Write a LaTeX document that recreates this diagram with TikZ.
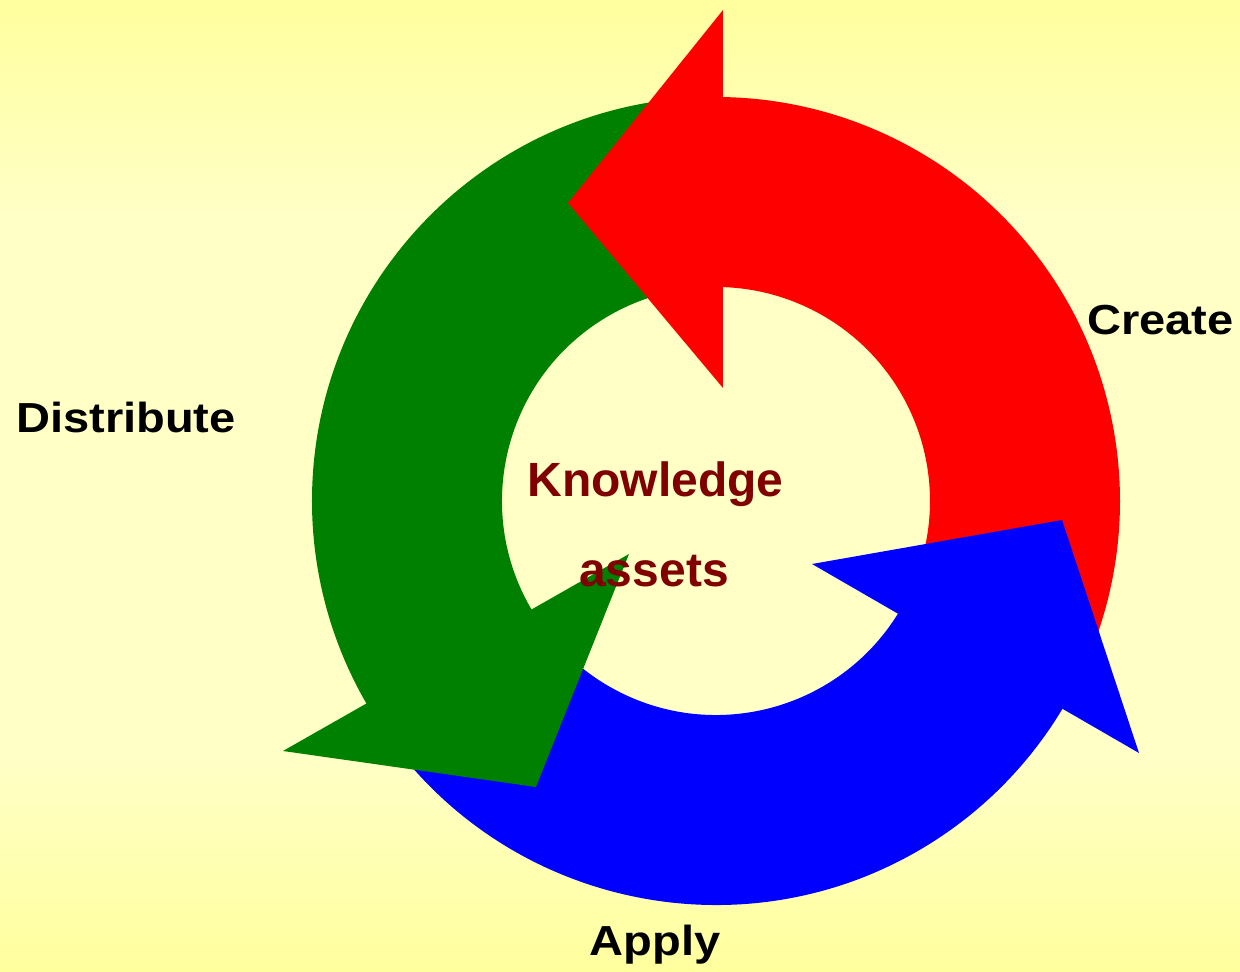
\documentclass[tikz,border=0pt]{standalone}
\usepackage{fontspec}
\setmainfont{Liberation Sans}
\definecolor{bgedge}{HTML}{FFFF9E}
\definecolor{bgmid}{HTML}{FFFFC6}
\definecolor{cred}{HTML}{FF0000}
\definecolor{cgreen}{HTML}{008000}
\definecolor{cblue}{HTML}{0000FF}
\definecolor{kdark}{HTML}{800000}
\pgfdeclareverticalshading{bgshade}{100bp}{color(0bp)=(bgedge); color(25bp)=(bgedge); color(36bp)=(bgmid); color(64bp)=(bgmid); color(75bp)=(bgedge); color(100bp)=(bgedge)}
\tikzset{
  lbl/.style={anchor=base, inner sep=0pt, font=\bfseries\fontsize{42}{50}\selectfont, text=black, xscale=1.12},
  ctr/.style={anchor=base, inner sep=0pt, font=\bfseries\fontsize{48}{56}\selectfont, text=kdark}
}
\begin{document}
\begin{tikzpicture}[x=1pt,y=1pt]
\useasboundingbox (-716,-471) rectangle (524,501);
\shade[shading=bgshade] (-716,-471) rectangle (524,501);
% bodies
\fill[cred] (-20:404) arc[start angle=-20,end angle=90,radius=404] -- (90:214) arc[start angle=90,end angle=-20,radius=214] -- cycle;
\fill[cgreen] (90:404) arc[start angle=90,end angle=211,radius=404] -- (211:214) arc[start angle=211,end angle=90,radius=214] -- cycle;
\fill[cblue] (215:404) arc[start angle=215,end angle=331,radius=404] -- (331:214) arc[start angle=331,end angle=215,radius=214] -- cycle;
% heads
\fill[cred] (7,491) -- (-148,298) -- (7,113) -- cycle;
\fill[cgreen] (-433,-250) -- (-180,-286) -- (-87,-53) -- cycle;
\fill[cblue] (96,-63) -- (346,-19) -- (423,-252) -- cycle;
% labels
\node[lbl] (create) at (444.5,166) {Create};
\node[lbl] (distribute) at (-590,68) {Distribute};
\node[lbl] (apply) at (-61,-454) {Apply};
\node[ctr] (know) at (-60.5,4) {Knowledge};
\node[ctr] (assets) at (-62,-85) {assets};
\end{tikzpicture}
\end{document}
